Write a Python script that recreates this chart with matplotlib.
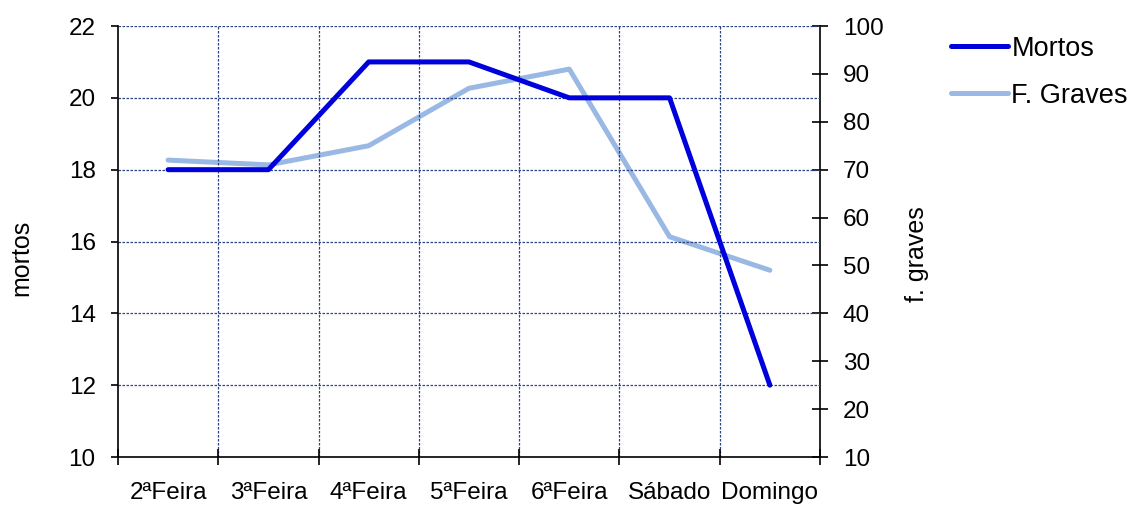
import matplotlib
matplotlib.use("Agg")
import matplotlib.pyplot as plt
import numpy as np

plt.rcParams['font.family'] = ['Liberation Sans', 'DejaVu Sans']

dias = ["2ªFeira", "3ªFeira", "4ªFeira", "5ªFeira", "6ªFeira", "Sábado", "Domingo"]
mortos = [18, 18, 21, 21, 20, 20, 12]
graves = [72, 71, 75, 87, 91, 56, 49]

fig = plt.figure(figsize=(11.32, 5.07), dpi=100)
ax = fig.add_axes([0.1042, 0.0986, 0.6202, 0.8501])
ax2 = ax.twinx()

x = np.arange(len(dias))
l1, = ax.plot(x, mortos, color='#0000dd', lw=3.6, solid_capstyle='round', zorder=4, label='Mortos')
l2, = ax2.plot(x, graves, color='#99b8e3', lw=3.6, solid_capstyle='round', zorder=3, label='F. Graves')
ax.set_zorder(ax2.get_zorder() + 1)
ax.patch.set_visible(False)

ax.set_xlim(-0.5, len(dias) - 0.5)
ax.set_ylim(10, 22)
ax.set_yticks(range(10, 23, 2))
ax2.set_ylim(10, 100)
ax2.set_yticks(range(10, 101, 10))

ax.set_xticks(x)
ax.set_xticklabels(dias)
ax.set_xticks(np.arange(-0.5, len(dias)), minor=True)

grid_kw = dict(color='#2a4582', lw=0.9, linestyle=(0, (2.0, 1.2)))
for v in range(12, 23, 2):
    ax.axhline(v, zorder=1, **grid_kw)
for b in np.arange(0.5, len(dias) - 1):
    ax.axvline(b, zorder=1, **grid_kw)

for a in (ax, ax2):
    a.spines['top'].set_visible(False)
ax.spines['right'].set_visible(False)
ax2.spines['left'].set_visible(False)
ax2.spines['bottom'].set_visible(False)
for s in ('left', 'bottom'):
    ax.spines[s].set_linewidth(1.2)
ax2.spines['right'].set_linewidth(1.2)

ax.tick_params(axis='x', which='major', length=0, pad=18, labelsize=17.5)
ax.tick_params(axis='x', which='minor', direction='inout', length=12, width=1.2)
ax.tick_params(axis='y', direction='out', length=5, width=1.2, pad=11, labelsize=17.5)
ax2.tick_params(axis='y', direction='inout', length=11, width=1.2, pad=11, labelsize=17.5)

ax.set_ylabel('mortos', fontsize=18)
ax.yaxis.set_label_coords(-0.121, 0.462)
ax2.set_ylabel('f. graves', fontsize=18)
ax2.yaxis.set_label_coords(1.121, 0.471)

fig.legend(handles=[l1, l2], loc='upper left', bbox_to_anchor=(0.819, 0.978),
           frameon=False, fontsize=19.5, handlelength=2.1, handletextpad=0.11,
           labelspacing=0.78)

fig.savefig('out.png', dpi=100)
